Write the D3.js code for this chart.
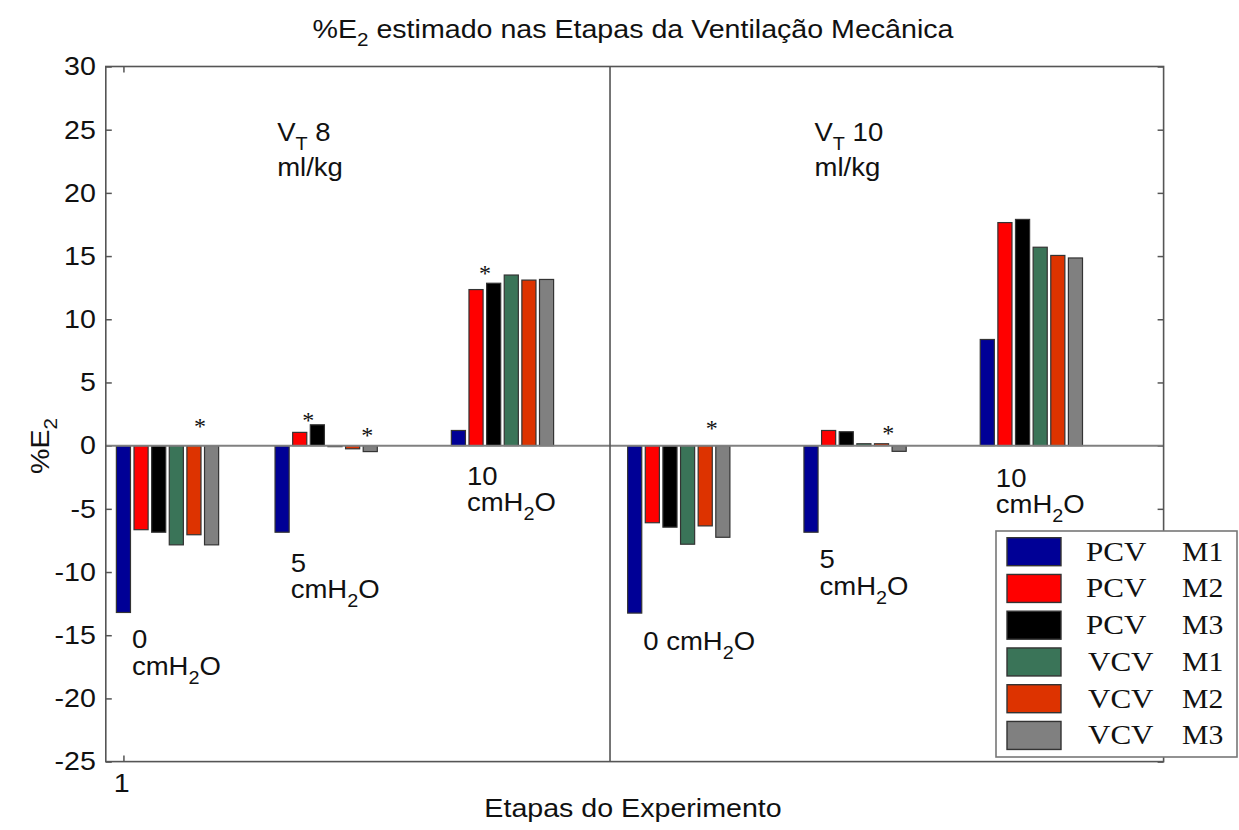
<!DOCTYPE html>
<html><head><meta charset="utf-8">
<script src="https://cdn.jsdelivr.net/npm/d3@7/dist/d3.min.js"></script>
<style>body{margin:0;background:#fff}</style>
</head><body>
<svg id="c" width="1239" height="830"></svg>
<script>
// ---------------- DATA ----------------
const stages = ["VT 8 · 0 cmH2O","VT 8 · 5 cmH2O","VT 8 · 10 cmH2O","VT 10 · 0 cmH2O","VT 10 · 5 cmH2O","VT 10 · 10 cmH2O"];
const stageStart = [1, 10, 20, 30, 40, 50];          // x index of first bar of each stage
const seriesModes = ["PCV","PCV","PCV","VCV","VCV","VCV"];
const seriesMoments = ["M1","M2","M3","M1","M2","M3"];
const pcvM1 = [-13.2, -6.85,  1.2, -13.25, -6.85,  8.4];
const pcvM2 = [-6.65,  1.05, 12.35, -6.1,   1.2,  17.65];
const pcvM3 = [-6.85,  1.65, 12.85, -6.45,  1.1,  17.9];
const vcvM1 = [-7.85,  0.0,  13.5,  -7.8,   0.15, 15.7];
const vcvM2 = [-7.05, -0.25, 13.1,  -6.35,  0.15, 15.05];
const vcvM3 = [-7.85, -0.47, 13.15, -7.25, -0.45, 14.85];
const yTicks = [30, 25, 20, 15, 10, 5, 0, -5, -10, -15, -20, -25];
const xTicks = [1];
const xTickLabels = ["1"];
const panelDivider = 28.6;
const panelLabels = [["V","T"," 8"],["V","T"," 10"]];
const stageLabels = [["0","cmH2O"],["5","cmH2O"],["10","cmH2O"],["0 cmH2O"],["5","cmH2O"],["10","cmH2O"]];
const starX = [5.34, 11.49, 14.83, 21.51, 34.37, 44.38];
const starY = [1.82, 2.25, 1.11, 13.9, 1.64, 1.24];
const series = [pcvM1, pcvM2, pcvM3, vcvM1, vcvM2, vcvM3];

// ---------------- LAYOUT / STYLE ----------------
const colors = ["#000096","#ff0000","#000000","#3a7458","#dd3300","#808080"];
const SX = 1.1; // horizontal stretch of the text in the reference
const sans = "'Liberation Sans', Arial, sans-serif";
const serif = "'Liberation Serif', 'Times New Roman', serif";
const svg = d3.select("#c");
const x = d3.scaleLinear().domain([0, 60]).range([105.8, 1163.6]);
const y = d3.scaleLinear().domain([-25, 30]).range([761.6, 66.5]);
const axisCol = "#555";

function stext(g, px, py, parts, o) {
  o = o || {};
  const gg = g.append("g").attr("transform", `translate(${px},${py}) scale(${o.sx || SX},1)`);
  const t = gg.append("text").attr("font-family", o.font || sans).attr("font-size", o.size || 25)
    .attr("fill", "#111").attr("text-anchor", o.anchor || "start");
  if (o.rotate) gg.attr("transform", `translate(${px},${py}) rotate(${o.rotate}) scale(${o.sx || SX},1)`);
  let shifted = 0;
  parts.forEach(p => {
    const isSub = typeof p === "object";
    const s = t.append("tspan").text(isSub ? p.sub : p);
    if (isSub) { s.attr("font-size", (o.size || 25) * 0.72).attr("dy", o.subDy || 8); shifted = o.subDy || 8; }
    else if (shifted) { s.attr("dy", -shifted); shifted = 0; }
  });
  return gg;
}

// title
stext(svg, 633, 38, ["%E", {sub: "2"}, " estimado nas Etapas da Ventilação Mecânica"], {size: 26, anchor: "middle", subDy: 8, sx: 1.1});

// axes
const gy = svg.append("g").attr("transform", `translate(${x(0)},0)`)
  .call(d3.axisLeft(y).tickValues(yTicks).tickSizeInner(-6).tickSizeOuter(0).tickPadding(9)
    .tickFormat(d => String(d)));
gy.select(".domain").remove();
gy.selectAll("line").attr("stroke", axisCol).attr("stroke-width", 1.5);
gy.selectAll("text").attr("font-family", sans).attr("font-size", 26).attr("fill", "#111")
  .attr("transform", `scale(${SX},1)`);

const gr = svg.append("g").attr("transform", `translate(${x(60)},0)`)
  .call(d3.axisRight(y).tickValues(yTicks).tickSizeInner(-6).tickSizeOuter(0).tickFormat(""));
gr.select(".domain").remove();
gr.selectAll("line").attr("stroke", axisCol).attr("stroke-width", 1.5);

const gx = svg.append("g").attr("transform", `translate(0,${y(-25)})`)
  .call(d3.axisBottom(x).tickValues(xTicks).tickSizeInner(-6).tickSizeOuter(0).tickPadding(12)
    .tickFormat((d, i) => xTickLabels[i]));
gx.select(".domain").remove();
gx.selectAll("line").attr("stroke", axisCol).attr("stroke-width", 1.5);
gx.selectAll("text").attr("font-family", sans).attr("font-size", 26).attr("fill", "#111")
  .attr("transform", `scale(${SX},1)`).attr("dx", -2);

const gt = svg.append("g").attr("transform", `translate(0,${y(30)})`)
  .call(d3.axisTop(x).tickValues(xTicks).tickSizeInner(-6).tickSizeOuter(0).tickFormat(""));
gt.select(".domain").remove();
gt.selectAll("line").attr("stroke", axisCol).attr("stroke-width", 1.5);

// bars
const bw = 0.4;
series.forEach((vals, s) => {
  svg.append("g").selectAll("rect").data(vals).join("rect")
    .attr("x", (d, i) => x(stageStart[i] + s - bw))
    .attr("width", (d, i) => x(stageStart[i] + s + bw) - x(stageStart[i] + s - bw))
    .attr("y", d => y(Math.max(0, d)))
    .attr("height", d => Math.max(1, Math.abs(y(d) - y(0))))
    .attr("fill", colors[s])
    .attr("stroke", "#333").attr("stroke-width", 1.2);
});

// zero baseline
svg.append("line").attr("x1", x(0)).attr("x2", x(60)).attr("y1", y(0)).attr("y2", y(0))
  .attr("stroke", "#808080").attr("stroke-width", 2);

// box and divider
svg.append("rect").attr("x", x(0)).attr("y", y(30)).attr("width", x(60) - x(0)).attr("height", y(-25) - y(30))
  .attr("fill", "none").attr("stroke", axisCol).attr("stroke-width", 1.6);
svg.append("line").attr("x1", x(panelDivider)).attr("x2", x(panelDivider)).attr("y1", y(30)).attr("y2", y(-25))
  .attr("stroke", axisCol).attr("stroke-width", 1.6);

// panel labels
const panelX = [9.72, 40.2];
panelLabels.forEach((p, i) => {
  stext(svg, x(panelX[i]), y(24.1), [p[0], {sub: p[1]}, p[2]], {size: 25, subDy: 9});
  stext(svg, x(panelX[i]), y(21.34), ["ml/kg"], {size: 25});
});

// stage labels
const stageLabelY = [[-16.0, -18.14], [-9.97, -12.07], [-3.1, -5.2], [-16.16], [-9.7, -11.8], [-3.24, -5.35]];
stageLabels.forEach((lines, i) => {
  lines.forEach((ln, j) => {
    const parts = ln.includes("H2O") ? [ln.split("H2O")[0] + "H", {sub: "2"}, "O"] : [ln];
    stext(svg, x(stageStart[i] + bw) + 1.5, y(stageLabelY[i][j]), parts, {size: 25, subDy: 9});
  });
});

// asterisks
starX.forEach((sx, i) => {
  svg.append("text").attr("x", x(sx)).attr("y", y(starY[i]) + 11)
    .attr("text-anchor", "middle").attr("font-family", serif).attr("font-size", 24).attr("fill", "#111").text("*");
});

// axis titles
stext(svg, 633, 817, ["Etapas do Experimento"], {size: 26, anchor: "middle"});
stext(svg, 49, 446, ["%E", {sub: "2"}], {size: 26, anchor: "middle", rotate: -90, subDy: 8});

// legend
const lg = svg.append("g");
lg.append("rect").attr("x", 996).attr("y", 531).attr("width", 241).attr("height", 226)
  .attr("fill", "#fff").attr("stroke", "#777").attr("stroke-width", 1.6);
seriesModes.forEach((m, i) => {
  const cy = 551.7 + i * 36.75;
  lg.append("rect").attr("x", 1007).attr("y", cy - 14).attr("width", 54).attr("height", 28)
    .attr("fill", colors[i]).attr("stroke", "#333").attr("stroke-width", 1.4);
  stext(lg, m === "PCV" ? 1086 : 1088, cy + 9, [m], {font: serif, size: 27, sx: 1.15});
  stext(lg, 1182, cy + 9, [seriesMoments[i]], {font: serif, size: 27, sx: 1.1});
});
</script>
</body></html>
